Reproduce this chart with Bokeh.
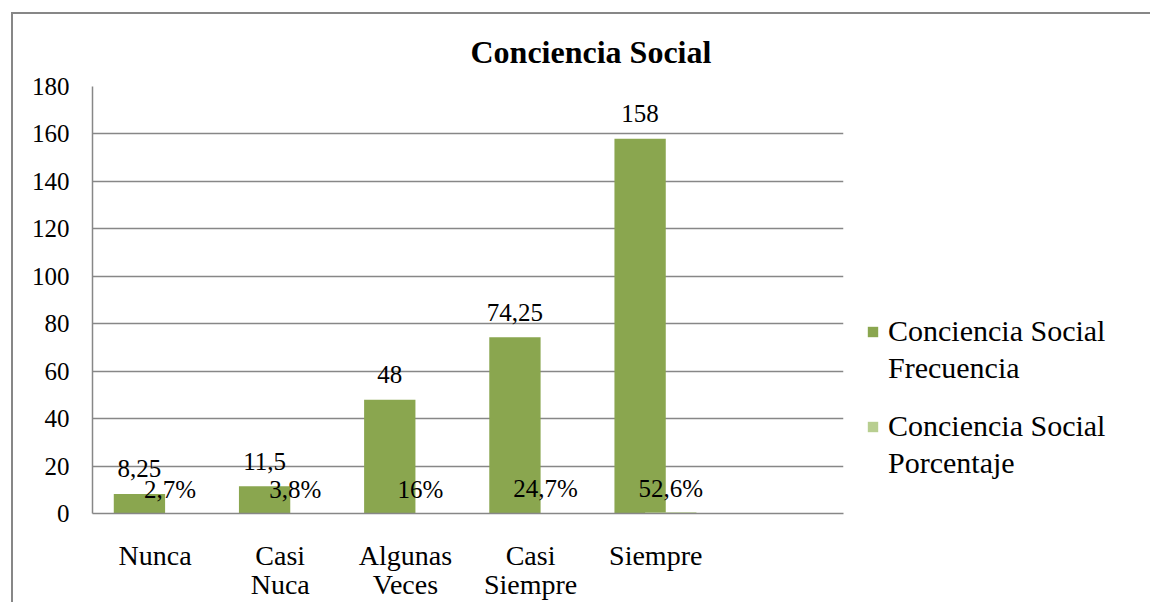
from bokeh.plotting import figure
from bokeh.layouts import row
from bokeh.models import (ColumnDataSource, FactorRange, Range1d, Legend, LegendItem,
                          FixedTicker)
from bokeh.transform import dodge
from bokeh.embed import file_html
from bokeh.resources import INLINE
from bokeh.core.properties import value

# ---- data ----
categories = ["Nunca", "Casi\nNuca", "Algunas\nVeces", "Casi\nSiempre", "Siempre"]
frecuencia = [8.25, 11.5, 48, 74.25, 158]
frecuencia_labels = ["8,25", "11,5", "48", "74,25", "158"]
porcentaje = [2.7, 3.8, 16, 24.7, 52.6]
porcentaje_labels = ["2,7%", "3,8%", "16%", "24,7%", "52,6%"]
y_ticks = [0, 20, 40, 60, 80, 100, 120, 140, 160, 180]
series_group = "Conciencia Social"
series_kinds = ["Frecuencia", "Porcentaje"]
title_text = "Conciencia Social"

FONT = "Liberation Serif"
GRAY = "#878787"
C_FREQ = "#8aa64f"
C_PCT = "#b8ce90"
LINE = "linear-gradient(#878787,#878787)"

source = ColumnDataSource(dict(
    x=categories,
    freq=frecuencia,
    flab=frecuencia_labels,
    pct_top=[v / 100 for v in porcentaje],
    plab=porcentaje_labels,
))

factors = categories + [" "]

p = figure(width=853, height=602, x_range=FactorRange(*factors), y_range=Range1d(0, 180),
           output_backend="svg", toolbar_location=None,
           min_border_left=92, min_border_right=10, min_border_top=86, min_border_bottom=88)
p.x_range.range_padding = 0
p.outline_line_color = None
p.background_fill_color = "white"
p.border_fill_alpha = 0
p.styles = {
    "background": (f"{LINE} 11px 12px / 2px calc(100% - 12px) no-repeat, "
                   f"{LINE} 11px 12px / calc(100% - 11px) 2px no-repeat, #ffffff"),
}

# title
p.title.text = title_text
p.title.text_font = FONT
p.title.text_font_style = "bold"
p.title.text_font_size = "32px"
p.title.text_color = "black"
p.title.align = "left"
p.title.offset = 378
p.title.standoff = 33

r1 = p.vbar(x=dodge("x", -0.125, range=p.x_range), top="freq", width=0.41, source=source,
            fill_color=C_FREQ, line_color=None)
r2 = p.vbar(x=dodge("x", 0.12, range=p.x_range), top="pct_top", width=0.41, source=source,
            fill_color=C_PCT, line_color=None)

p.text(x=dodge("x", -0.125, range=p.x_range), y="freq", text="flab", source=source,
       text_align="center", text_baseline="alphabetic", y_offset=-25,
       text_font=value(FONT), text_font_size=value("25px"), text_color="black")
p.text(x=dodge("x", 0.12, range=p.x_range), y="pct_top", text="plab", source=source,
       text_align="center", text_baseline="alphabetic", y_offset=-24,
       text_font=value(FONT), text_font_size=value("25px"), text_color="black")

# axes
p.yaxis.ticker = FixedTicker(ticks=y_ticks)
p.yaxis.major_tick_out = 0
p.yaxis.major_tick_in = 0
p.yaxis.minor_tick_line_color = None
p.yaxis.axis_line_color = GRAY
p.yaxis.axis_line_width = 1.5
p.yaxis.major_label_text_font = FONT
p.yaxis.major_label_text_font_size = "25px"
p.yaxis.major_label_text_color = "black"
p.yaxis.major_label_standoff = 23

p.xaxis.major_tick_out = 0
p.xaxis.major_tick_in = 0
p.xaxis.axis_line_color = GRAY
p.xaxis.axis_line_width = 1.5
p.xaxis.major_label_text_font = FONT
p.xaxis.major_label_text_font_size = "28px"
p.xaxis.major_label_text_color = "black"
p.xaxis.major_label_text_line_height = 0.94
p.xaxis.major_label_standoff = 26
p.xaxis.major_label_orientation = "horizontal"

p.xgrid.grid_line_color = None
p.ygrid.grid_line_color = GRAY
p.ygrid.grid_line_width = 1.5

# ---- legend panel (to the right of the plot area) ----
pl = figure(width=297, height=602, x_range=Range1d(0, 1), y_range=Range1d(0, 1),
            output_backend="svg", toolbar_location=None,
            x_axis_location=None, y_axis_location=None,
            min_border_left=0, min_border_right=0, min_border_top=0, min_border_bottom=0)
pl.grid.grid_line_color = None
pl.outline_line_color = None
pl.background_fill_alpha = 0
pl.border_fill_alpha = 0
pl.styles = {"background": f"{LINE} 0px 12px / 100% 2px no-repeat, #ffffff"}

# legend keys only (zero-height bars, nothing visible in the panel itself)
k1 = pl.vbar(x=[0.5], top=[0], width=0.1, fill_color=C_FREQ, line_color=None)
k2 = pl.vbar(x=[0.5], top=[0], width=0.1, fill_color=C_PCT, line_color=None)

legend_a = Legend(items=[LegendItem(label=series_group, renderers=[k1]),
                         LegendItem(label=series_group, renderers=[k2])],
                  location=(13, 70), border_line_color=None, background_fill_alpha=0,
                  label_text_font=FONT, label_text_font_size="30px", label_text_color="black",
                  glyph_width=13, glyph_height=13, label_standoff=9, spacing=61,
                  padding=0, margin=0)
legend_b = Legend(items=[LegendItem(label=series_kinds[0], renderers=[k1]),
                         LegendItem(label=series_kinds[1], renderers=[k2])],
                  location=(13, 33), border_line_color=None, background_fill_alpha=0,
                  label_text_font=FONT, label_text_font_size="30px", label_text_color="black",
                  glyph_width=0, glyph_height=13, label_standoff=22, spacing=61,
                  padding=0, margin=0)
pl.add_layout(legend_a)
pl.add_layout(legend_b)

layout = row(p, pl, spacing=0)

open("out.html", "w").write(file_html(layout, INLINE))
